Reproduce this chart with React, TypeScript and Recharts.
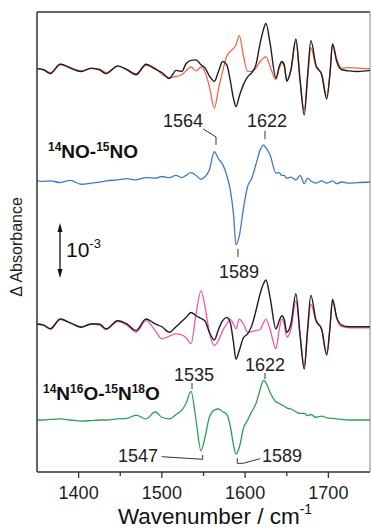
import React from "react";
import { LineChart, Line, XAxis, YAxis, ReferenceLine, ReferenceDot } from "recharts";

const FONT = '"Liberation Sans", Arial, Helvetica, sans-serif';

// wavenumber grid (cm-1) shared by all traces
const wavenumbers = [
  1350, 1358, 1366, 1378, 1390, 1403, 1415, 1425, 1433, 1447,
  1458, 1469, 1481, 1492, 1500, 1509, 1517, 1524, 1529, 1535,
  1541, 1547, 1552, 1557, 1563, 1568, 1573, 1578, 1582, 1586,
  1589, 1593, 1598, 1603, 1608, 1613, 1618, 1622, 1625, 1630,
  1637, 1641, 1644, 1647, 1650, 1655, 1661, 1666, 1671, 1675,
  1679, 1685, 1692, 1698, 1702, 1705, 1710, 1716, 1725, 1735,
  1750,
];

// difference spectra in 10^-3 abs, relative to each trace's own baseline
const topBlack = [
  0.02, 0, -0.07, 0.1, 0.03, -0.03, 0.03, 0, -0.07, 0.07,
  0, -0.09, 0.1, 0.01, -0.05, -0.16, -0.01, -0.03, 0.11, 0.17,
  0.18, 0.09, 0.03, -0.11, -0.21, -0.03, 0.15, 0.09, -0.18, -0.52,
  -0.67, -0.48, -0.27, -0.13, -0.05, 0.09, 0.48, 0.73, 0.84, 0.48,
  -0.15, 0.06, 0.15, 0.09, -0.21, 0, 0.56, -0.18, -0.82, -0.12,
  0.53, 0.09, -0.09, -0.53, -0.06, 0.47, 0.15, 0, -0.02, -0.03,
  -0.01,
];
const topRed = [
  0.02, 0, -0.05, 0.1, 0.04, -0.02, 0.02, 0.01, -0.05, 0.06,
  0.01, -0.07, 0.08, 0.03, -0.08, -0.14, -0.12, -0.09, -0.02, 0.05,
  -0.02, 0.05, -0.05, -0.3, -0.7, -0.35, -0.03, 0.25, 0.33, 0.39,
  0.45, 0.62, 0.25, -0.03, -0.03, 0.03, 0.15, 0.21, 0.24, 0.06,
  -0.18, 0.03, 0.12, 0.06, -0.18, -0.02, 0.52, -0.22, -0.73, -0.15,
  0.4, 0.06, -0.08, -0.48, -0.05, 0.47, 0.2, 0.03, 0.04, 0.03,
  0.02,
];
const noDiff = [
  0, -0.01, 0, -0.03, 0.01, -0.06, -0.04, -0.02, 0, 0.02,
  0.04, 0.02, 0.06, 0.05, 0.08, 0.06, 0.1, 0.06, 0.1, 0.15,
  0.1, 0.03, 0.08, 0.2, 0.53, 0.4, 0.3, 0.1, -0.15, -0.6,
  -1.16, -1.0, -0.5, -0.1, 0.05, 0.3, 0.56, 0.65, 0.6, 0.47,
  0.14, 0.15, 0.1, 0.1, 0.05, 0.07, 0.02, 0.1, -0.05, 0.05,
  0, -0.04, 0, -0.04, -0.02, 0, -0.05, -0.02, -0.04, -0.03,
  -0.02,
];
const midBlack = [
  0, -0.02, -0.09, 0.09, 0.02, -0.06, 0, 0, -0.09, 0.06,
  0, -0.12, 0.09, 0, -0.05, -0.15, -0.05, 0.05, 0.12, 0.21,
  0.15, 0.1, 0.05, -0.15, -0.29, -0.1, 0.06, 0.12, 0.03, -0.33,
  -0.64, -0.48, -0.25, -0.18, -0.03, 0.24, 0.55, 0.73, 0.8, 0.48,
  -0.09, 0.06, 0.15, 0.08, -0.15, 0, 0.55, -0.2, -0.82, -0.1,
  0.52, 0.08, -0.1, -0.55, -0.05, 0.45, 0.12, -0.02, -0.05, -0.05,
  -0.05,
];
const midPink = [
  0, -0.02, -0.08, 0.08, 0.02, -0.05, 0, -0.02, -0.1, 0.05,
  -0.02, -0.15, 0.06, -0.12, -0.27, -0.22, -0.18, -0.2, -0.25, -0.36,
  0.18, 0.6, 0.3, -0.15, -0.39, -0.3, -0.12, 0, 0.09, 0,
  -0.09, 0.09, 0, -0.15, -0.14, -0.12, -0.1, 0.02, 0.09, -0.1,
  -0.45, -0.1, 0.09, 0, -0.24, -0.1, 0.42, -0.2, -0.76, -0.15,
  0.36, 0.05, -0.1, -0.58, -0.05, 0.42, 0.1, -0.05, -0.07, -0.07,
  -0.07,
];
const isoDiff = [
  0, 0, 0.01, 0.02, 0, -0.02, -0.01, 0, 0, 0.02,
  0.03, 0.09, 0.02, 0.15, 0.05, 0.02, 0.1, 0.18, 0.3, 0.52,
  0, -0.56, -0.3, 0.05, 0.18, 0.2, 0.15, 0.1, -0.1, -0.45,
  -0.62, -0.5, -0.15, 0, 0.15, 0.3, 0.55, 0.72, 0.68, 0.5,
  0.33, 0.3, 0.27, 0.25, 0.22, 0.2, 0.15, 0.12, 0.12, 0.08,
  0.1, 0.05, 0.07, 0.04, 0.03, 0.03, 0.02, 0.01, 0, 0,
  0,
];

// stacking offsets (10^-3 abs)
const OFFSET_TOP = 7.31;
const OFFSET_NO = 5.29;
const OFFSET_MID = 2.69;
const OFFSET_ISO = 0.945;

const X_TICKS = [1400, 1450, 1500, 1550, 1600, 1650, 1700];
const X_LABELS = [1400, 1500, 1600, 1700];
const Y_MAX = 8.36;

const peakLabels = [
  { text: "1564", x: 1525.4, y: 6.38 },
  { text: "1622", x: 1626.3, y: 6.38 },
  { text: "1589", x: 1592.6, y: 3.64 },
  { text: "1535", x: 1538.6, y: 1.764 },
  { text: "1622", x: 1623.9, y: 1.945 },
  { text: "1547", x: 1471.3, y: 0.291 },
  { text: "1589", x: 1644.3, y: 0.291 },
];

const leaders = [
  [[1549.4, 6.236], [1565, 6.09]],
  [[1565, 6.09], [1565, 5.945]],
  [[1623.9, 6.2], [1623.9, 6.05]],
  [[1591.4, 4.055], [1591.4, 3.91]],
  [[1536.2, 1.618], [1536.2, 1.509]],
  [[1623.9, 1.8], [1623.9, 1.69]],
  [[1499.8, 0.278], [1549, 0.231]],
  [[1549, 0.231], [1549, 0.309]],
  [[1590.6, 0.249], [1590.6, 0.158]],
  [[1590.6, 0.158], [1597.8, 0.158]],
  [[1597.8, 0.158], [1617.9, 0.242]],
];

const data = wavenumbers.map((w, i) => ({
  w,
  topBlack: topBlack[i] + OFFSET_TOP,
  topRed: topRed[i] + OFFSET_TOP,
  noDiff: noDiff[i] + OFFSET_NO,
  midBlack: midBlack[i] + OFFSET_MID,
  midPink: midPink[i] + OFFSET_MID,
  isoDiff: isoDiff[i] + OFFSET_ISO,
}));

function XTick(props: any) {
  const { x, y, payload } = props;
  const major = X_LABELS.includes(payload.value);
  return (
    <g>
      <line x1={x} x2={x} y1={y} y2={y + (major ? 6 : 4)} stroke="#333" strokeWidth={1.3} />
      {major && (
        <text x={x} y={y + 27} textAnchor="middle" fontFamily={FONT} fontSize={18} fill="#222">
          {payload.value}
        </text>
      )}
    </g>
  );
}

function SupLabel({ cx, cy, parts, size, sup }: any) {
  return (
    <text x={cx} y={cy} fontFamily={FONT} fontWeight="bold" fontSize={size} fill="#111">
      {parts.map(([s, m]: string[], i: number) => (
        <React.Fragment key={i}>
          <tspan fontSize={sup} dy={-7}>{s}</tspan>
          <tspan fontSize={size} dy={7}>{m}</tspan>
        </React.Fragment>
      ))}
    </text>
  );
}

export default function App() {
  return (
    <div style={{ position: "absolute", left: 0, top: 0, background: "#fff" }}>
      <LineChart width={372} height={529} data={data} margin={{ top: 12, right: 2, left: 0, bottom: 0 }}>
        <XAxis
          dataKey="w"
          type="number"
          domain={[1350, 1750]}
          ticks={X_TICKS}
          interval={0}
          height={57}
          tickSize={0}
          tickMargin={0}
          tickLine={false}
          tick={<XTick />}
          axisLine={{ stroke: "#333", strokeWidth: 1.5 }}
          label={{
            content: () => (
              <text x={215} y={524} textAnchor="middle" fontFamily={FONT} fontSize={22.5} fill="#111">
                Wavenumber / cm
                <tspan fontSize={14} dy={-10}>-1</tspan>
              </text>
            ),
          }}
        />
        <YAxis
          type="number"
          domain={[0, Y_MAX]}
          width={37}
          tick={false}
          tickLine={false}
          axisLine={{ stroke: "#333", strokeWidth: 1.5 }}
          allowDataOverflow
          label={{
            content: () => (
              <text
                transform="translate(22,247) rotate(-90)"
                textAnchor="middle"
                fontFamily={FONT}
                fontSize={16}
                fill="#222"
              >
                Δ Absorbance
              </text>
            ),
          }}
        />
        <ReferenceLine y={Y_MAX} stroke="#333" strokeWidth={1.5} />
        <ReferenceLine x={1750} stroke="#999" strokeWidth={1.2} />

        <Line dataKey="topRed" type="monotone" stroke="#f0684a" strokeWidth={1.3} dot={false} isAnimationActive={false} />
        <Line dataKey="topBlack" type="monotone" stroke="#1e1e1e" strokeWidth={1.4} dot={false} isAnimationActive={false} />
        <Line dataKey="noDiff" type="monotone" stroke="#3f78c8" strokeWidth={1.3} dot={false} isAnimationActive={false} />
        <Line dataKey="midPink" type="monotone" stroke="#ee5aa8" strokeWidth={1.3} dot={false} isAnimationActive={false} />
        <Line dataKey="midBlack" type="monotone" stroke="#1e1e1e" strokeWidth={1.4} dot={false} isAnimationActive={false} />
        <Line dataKey="isoDiff" type="monotone" stroke="#2f9e55" strokeWidth={1.3} dot={false} isAnimationActive={false} />

        {leaders.map((seg, i) => (
          <ReferenceLine
            key={"l" + i}
            segment={[{ x: seg[0][0], y: seg[0][1] }, { x: seg[1][0], y: seg[1][1] }]}
            stroke="#333"
            strokeWidth={1}
          />
        ))}
        {peakLabels.map((p, i) => (
          <ReferenceDot
            key={"p" + i}
            x={p.x}
            y={p.y}
            r={0}
            shape={(s: any) => (
              <text x={s.cx} y={s.cy} dy={6.5} textAnchor="middle" fontFamily={FONT} fontSize={18} fill="#222">
                {p.text}
              </text>
            )}
          />
        ))}

        <ReferenceDot
          x={1363.2}
          y={5.71}
          r={0}
          shape={(s: any) => <SupLabel cx={s.cx} cy={s.cy} size={19} sup={12} parts={[["14", "NO-"], ["15", "NO"]]} />}
        />
        <ReferenceDot
          x={1357.2}
          y={1.309}
          r={0}
          shape={(s: any) => (
            <SupLabel cx={s.cx} cy={s.cy} size={19} sup={12} parts={[["14", "N"], ["16", "O-"], ["15", "N"], ["18", "O"]]} />
          )}
        />

        {/* 10^-3 scale bar */}
        <ReferenceLine segment={[{ x: 1377.6, y: 3.6 }, { x: 1377.6, y: 4.45 }]} stroke="#111" strokeWidth={1.3} />
        <ReferenceDot
          x={1377.6}
          y={4.527}
          r={0}
          shape={(s: any) => <path d={`M${s.cx},${s.cy} L${s.cx - 2.5},${s.cy + 9} L${s.cx + 2.5},${s.cy + 9} Z`} fill="#111" />}
        />
        <ReferenceDot
          x={1377.6}
          y={3.527}
          r={0}
          shape={(s: any) => <path d={`M${s.cx},${s.cy} L${s.cx - 2.5},${s.cy - 9} L${s.cx + 2.5},${s.cy - 9} Z`} fill="#111" />}
        />
        <ReferenceDot
          x={1384.8}
          y={3.909}
          r={0}
          shape={(s: any) => (
            <text x={s.cx} y={s.cy} fontFamily={FONT} fontSize={21} fill="#111">
              10<tspan fontSize={13} dy={-9}>-3</tspan>
            </text>
          )}
        />
      </LineChart>
    </div>
  );
}
